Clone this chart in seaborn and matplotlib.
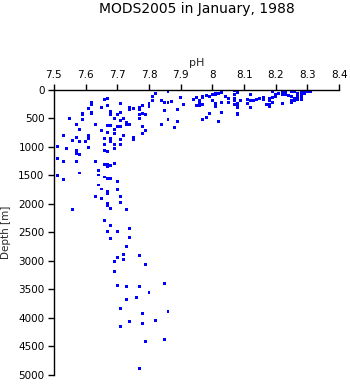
import matplotlib
matplotlib.use("Agg")
import matplotlib.pyplot as plt
import seaborn as sns
import pandas as pd

title = "MODS2005 in January, 1988"
x_label = "pH"
y_label = "Depth [m]"
x_ticks = [7.5, 7.6, 7.7, 7.8, 7.9, 8.0, 8.1, 8.2, 8.3, 8.4]
x_tick_labels = ["7.5", "7.6", "7.7", "7.8", "7.9", "8", "8.1", "8.2", "8.3", "8.4"]
y_ticks = [0, 500, 1000, 1500, 2000, 2500, 3000, 3500, 4000, 4500, 5000]
y_tick_labels = [str(v) for v in y_ticks]

ph = [
    7.86, 7.86, 7.82, 7.81, 7.90, 7.95, 7.94, 7.84, 7.85, 7.86,
    7.87, 7.80, 7.80, 7.78, 7.77, 7.77, 7.74, 7.75, 7.71, 7.67,
    7.66, 7.62, 7.62, 7.67, 7.65, 7.61, 7.62, 7.62, 7.59, 7.59,
    7.68, 7.68, 7.70, 7.71, 7.69, 7.71, 7.72, 7.74, 7.78, 7.79,
    7.77, 7.77, 7.73, 7.74, 7.73, 7.55, 7.57, 7.59, 7.63, 7.67,
    7.68, 7.70, 7.71, 7.78, 7.84, 7.86, 7.85, 7.89, 7.89, 7.88,
    7.65, 7.67, 7.69, 7.69, 7.58, 7.72, 7.75, 7.75, 7.79, 7.78,
    7.53, 7.57, 7.61, 7.61, 7.56, 7.58, 7.60, 7.66, 7.68, 7.68,
    7.71, 7.71, 7.69, 7.69, 7.66, 7.66, 7.67, 7.51, 7.54, 7.61,
    7.57, 7.57, 7.58, 7.51, 7.53, 7.57, 7.63, 7.66, 7.67, 7.68,
    7.67, 7.69, 7.58, 7.64, 7.64, 7.66, 7.67, 7.68, 7.51, 7.53,
    7.70, 7.64, 7.65, 7.70, 7.67, 7.67, 7.71, 7.63, 7.65, 7.71,
    7.67, 7.67, 7.68, 7.73, 7.56, 7.66, 7.68, 7.74, 7.67, 7.70,
    7.74, 7.68, 7.73, 7.72, 7.70, 7.69, 7.72, 7.77, 7.79, 7.69,
    7.85, 7.70, 7.73, 7.77, 7.80, 7.76, 7.73, 7.71, 7.86, 7.78,
    7.82, 7.74, 7.78, 7.71, 7.85, 7.79, 7.77,
    7.81, 7.91, 7.96, 7.96, 7.95, 7.96, 7.97, 7.97, 7.98, 7.99,
    8.00, 8.00, 8.01, 8.01, 8.02, 8.03, 8.03, 8.01, 8.01, 8.03,
    8.04, 8.05, 8.05, 8.07, 8.08, 8.08, 8.07, 8.07, 8.07, 8.08,
    8.08, 8.08, 8.08, 7.99, 7.98, 7.97, 8.03, 8.02, 8.12, 8.11,
    8.12, 8.11, 8.13, 8.14, 8.15, 8.12, 8.16, 8.16, 8.18, 8.18,
    8.18, 8.19, 8.17, 8.18, 8.20, 8.20, 8.22, 8.22, 8.22, 8.23,
    8.23, 8.21, 8.23, 8.24, 8.25, 8.25, 8.25, 8.25, 8.26, 8.27,
    8.26, 8.27, 8.27, 8.27, 8.28, 8.28, 8.28, 8.29, 8.29, 8.30,
    8.30, 8.31, 8.26,
    7.97, 7.98, 8.00, 8.03, 8.09, 8.07, 8.08, 8.27, 8.28, 8.19,
    8.19,
]
depth = [
    0, 35, 58, 117, 140, 140, 175, 187, 228, 222,
    205, 245, 292, 268, 303, 338, 303, 320, 233, 145,
    163, 215, 263, 280, 310, 320, 390, 408, 408, 438,
    380, 425, 438, 390, 508, 537, 495, 350, 408, 438,
    425, 508, 565, 613, 613, 508, 600, 525, 613, 630,
    630, 642, 642, 642, 600, 513, 368, 338, 560, 653,
    712, 740, 688, 770, 700, 805, 828, 875, 712, 758,
    805, 828, 805, 845, 893, 910, 905, 845, 845, 905,
    863, 950, 963, 1020, 963, 1062, 1080, 992, 1033, 1003,
    1068, 1108, 1138, 1208, 1255, 1255, 1255, 1313, 1313, 1330,
    1353, 1283, 1458, 1418, 1493, 1528, 1552, 1552, 1500, 1575,
    1615, 1668, 1738, 1750, 1785, 1825, 1867, 1873, 1908, 1972,
    2000, 2030, 2088, 2105, 2105, 2298, 2380, 2433, 2490, 2490,
    2585, 2608, 2742, 2893, 2945, 3015, 2980, 2910, 3068, 3185,
    3395, 3435, 3453, 3453, 3558, 3645, 3675, 3827, 3885, 3925,
    4048, 4065, 4100, 4153, 4375, 4415, 4888,
    193, 263, 187, 222, 280, 280, 263, 117, 105, 117,
    187, 88, 88, 70, 58, 18, 47, 233, 292, 215,
    117, 145, 222, 18, 40, 30, 88, 145, 187, 233,
    292, 408, 438, 408, 478, 513, 390, 555, 88, 175,
    187, 245, 193, 175, 158, 303, 128, 163, 145, 193,
    263, 222, 257, 292, 117, 88, 30, 88, 233, 30,
    88, 58, 88, 105, 30, 117, 187, 222, 30, 88,
    145, 0, 58, 117, 30, 88, 163, 58, 12, 0,
    30, 30, 187,
    140, 93, 193, 0, 193, 250, 310, 163, 135, 135,
    35,
]

df = pd.DataFrame({"pH": ph, "Depth": depth})

sns.set_style("ticks")
plt.rcParams["font.family"] = ["DejaVu Sans"]

fig = plt.figure(figsize=(3.5, 3.84), dpi=100)
ax = fig.add_axes([0.154, 0.0234, 0.815, 0.7426])

sns.scatterplot(data=df, x="pH", y="Depth", ax=ax, marker="s", s=4.5,
                color="#0000ff", linewidth=0, edgecolor="none")

ax.set_xlim(7.5, 8.4)
ax.set_ylim(5000, 0)
ax.xaxis.tick_top()
ax.xaxis.set_label_position("top")
ax.set_xticks(x_ticks)
ax.set_xticklabels(x_tick_labels, fontsize=7.5)
ax.set_yticks(y_ticks)
ax.set_yticklabels(y_tick_labels, fontsize=7.5)
ax.set_xlabel(x_label, fontsize=8, labelpad=3)
ax.set_ylabel(y_label, fontsize=7.5, labelpad=5)
for side in ["right", "bottom"]:
    ax.spines[side].set_visible(False)
for side in ["top", "left"]:
    ax.spines[side].set_color("black")
    ax.spines[side].set_linewidth(1.0)
ax.tick_params(axis="both", direction="out", length=4.3, width=1.0, color="black",
               pad=2.5, labelcolor="black")
ax.tick_params(axis="x", top=True, bottom=False)
ax.set_facecolor("white")

fig.text(0.5614, 0.967, title, ha="center", va="baseline", fontsize=10, color="black")

fig.savefig("out.png", dpi=100, facecolor="white")
